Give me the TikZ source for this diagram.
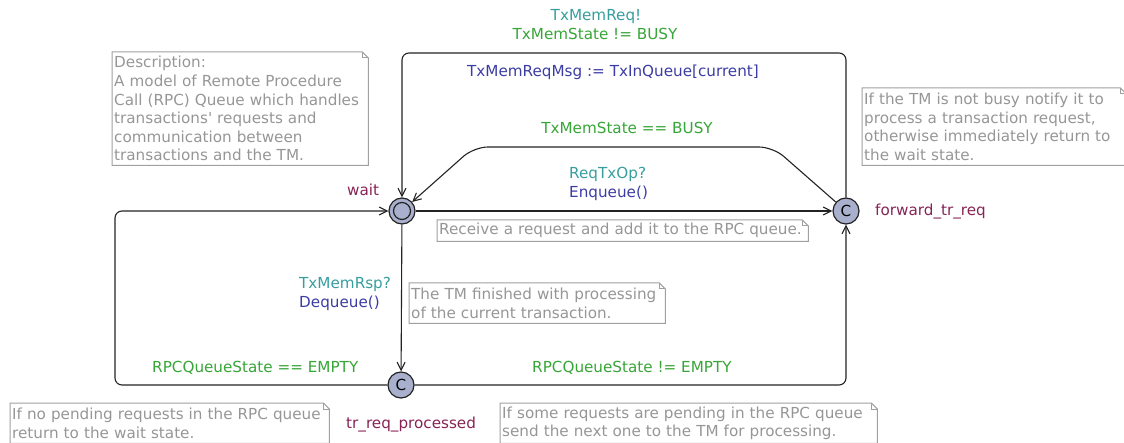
\documentclass[tikz,border=0pt]{standalone}
\usepackage{fontspec}
\setmainfont{DejaVu Sans}
\usetikzlibrary{arrows.meta}

\definecolor{locname}{RGB}{135,35,85}
\definecolor{synccol}{RGB}{55,158,158}
\definecolor{guardcol}{RGB}{55,165,55}
\definecolor{assigncol}{RGB}{60,60,165}
\definecolor{notetextcol}{RGB}{150,150,150}
\definecolor{noteborder}{RGB}{160,160,160}
\definecolor{locfill}{RGB}{168,176,206}
\definecolor{edgecol}{RGB}{35,35,35}

\newcommand\labelfont{\fontsize{15.2}{18.6}\selectfont}

% comment box with a folded corner: name, top-left corner, size options, text
\newcommand\notebox[4]{%
  \node[cmt, #3] (#1) at (#2) {#4};
  \draw[cmtline] (#1.south west) -- (#1.south east) -- ([yshift=-6pt]#1.north east)
    -- ([xshift=-6pt]#1.north east) -- (#1.north west) -- cycle;
  \draw[cmtline] ([xshift=-6pt]#1.north east) |- ([yshift=-6pt]#1.north east);
}

\begin{document}
\begin{tikzpicture}[x=1pt,y=-1pt,
  loc/.style={circle, draw=edgecol, fill=locfill, line width=1.2pt,
    minimum size=26pt, inner sep=0pt, font=\labelfont},
  trans/.style={draw=edgecol, line width=1.1pt,
    -{Straight Barb[length=8pt,width=8pt,line width=1.1pt]}},
  lbl/.style={inner sep=0pt, font=\labelfont},
  locnm/.style={lbl, text=locname, anchor=base west},
  sync/.style={lbl, text=synccol},
  guard/.style={lbl, text=guardcol},
  assign/.style={lbl, text=assigncol},
  cmt/.style={anchor=north west, inner xsep=2pt, inner ysep=0pt, align=left,
    text=notetextcol, font=\labelfont},
  cmtline/.style={draw=noteborder, line width=1pt}
]
\useasboundingbox (0,0) rectangle (1124,443);

% locations
\node[loc] (wait) at (402,211) {};
\draw[edgecol, line width=1.2pt] (wait.center) circle[radius=8.5];
\node[loc] (fwd) at (846,211) {C};
\node[loc] (proc) at (401,385) {C};

\node[locnm] (nwait) at (347,196) {wait};
\node[locnm] (nfwd) at (875,216) {forward\_tr\_req};
\node[locnm] (nproc) at (346,428) {tr\_req\_processed};

% bend points of the edges
\coordinate (tr) at (846,53);
\coordinate (tl) at (402,53);
\coordinate (br) at (773,147);
\coordinate (bl) at (474,147);
\coordinate (ll) at (115,385);
\coordinate (lu) at (115,211);
\coordinate (rr) at (846,385);

% edges
\draw[trans] (wait) -- (fwd);
\draw[trans, rounded corners=14pt] (fwd) -- (br) -- (bl) -- (wait);
\draw[trans, rounded corners=7pt] (fwd) -- (tr) -- (tl) -- (wait);
\draw[trans] (wait) -- (proc);
\draw[trans, rounded corners=7pt] (proc) -- (ll) -- (lu) -- (wait);
\draw[trans, rounded corners=7pt] (proc) -- (rr) -- (fwd);

% edge labels
\node[sync, anchor=base] (s1) at (596,21) {TxMemReq!};
\node[guard, anchor=base] (g1) at (595,40) {TxMemState != BUSY};
\node[assign, anchor=base] (a1) at (613,77) {TxMemReqMsg := TxInQueue[current]};
\node[guard, anchor=base] (g2) at (627,134) {TxMemState == BUSY};
\node[sync, anchor=base west] (s2) at (569,179) {ReqTxOp?};
\node[assign, anchor=base west] (a2) at (569,198) {Enqueue()};
\node[sync, anchor=base west] (s3) at (299,289) {TxMemRsp?};
\node[assign, anchor=base west] (a3) at (299,308) {Dequeue()};
\node[guard, anchor=base west] (g3) at (152,373) {RPCQueueState == EMPTY};
\node[guard, anchor=base west] (g4) at (532,373) {RPCQueueState != EMPTY};

% comments
\notebox{ndesc}{112,52}{text width=252pt, minimum height=113pt}{Description:\\A model of Remote Procedure\\Call (RPC) Queue which handles\\transactions\textquotesingle{} requests and\\communication between\\transactions and the TM.}
\notebox{ntm}{862,88}{text width=260pt, minimum height=77pt}{If the TM is not busy notify it to\\process a transaction request,\\otherwise immediately return to\\the wait state.}
\notebox{nrecv}{437,220}{text width=367pt, minimum height=21pt}{Receive a request and add it to the RPC queue.}
\notebox{nfin}{409,283}{text width=252pt, minimum height=40pt}{The TM finished with processing\\of the current transaction.}
\notebox{nnone}{10,403}{text width=315pt, minimum height=40pt}{If no pending requests in the RPC queue\\return to the wait state.}
\notebox{nsome}{500,403}{text width=373pt, minimum height=40pt}{If some requests are pending in the RPC queue\\send the next one to the TM for processing.}
\end{tikzpicture}
\end{document}
